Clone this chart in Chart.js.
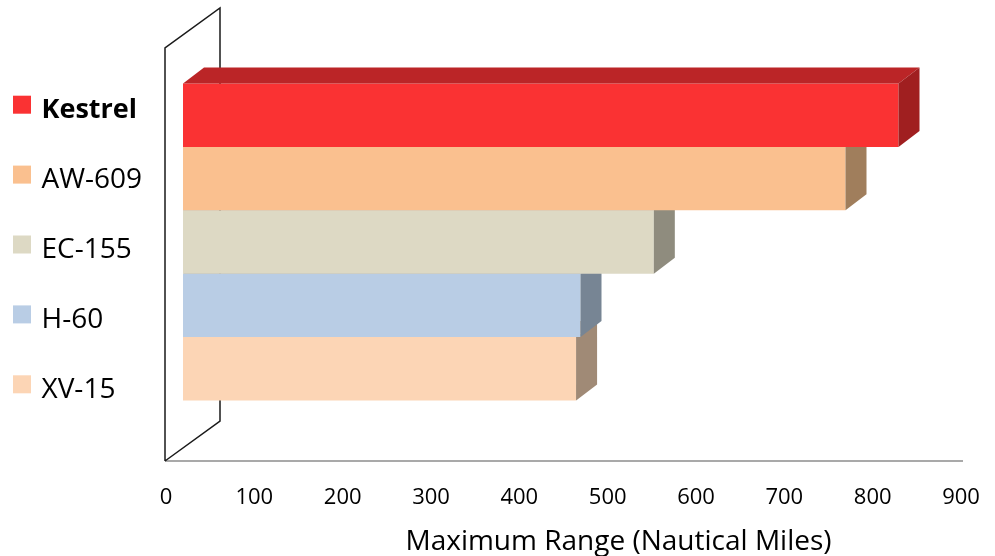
<!DOCTYPE html>
<html>
<head>
<meta charset="utf-8">
<script src="https://cdn.jsdelivr.net/npm/chart.js@4.4.1/dist/chart.umd.min.js"></script>
<style>
html,body{margin:0;padding:0;background:#fff;}
#wrap{width:995px;height:556px;position:relative;}
</style>
</head>
<body>
<div id="wrap"><canvas id="c" width="995" height="556"></canvas></div>
<script>
// ---- data ----
const seriesNames = ['Kestrel', 'AW-609', 'EC-155', 'H-60', 'XV-15'];
const maxRange = [810, 750, 533, 450, 445];
const tickValues = [0, 100, 200, 300, 400, 500, 600, 700, 800, 900];
const axisTitle = 'Maximum Range (Nautical Miles)';

// ---- style ----
const frontColors = ['#FA3233', '#FAC08F', '#DDD9C4', '#B9CDE5', '#FCD5B5'];
const topColors   = ['#BB2527', '#BB906B', '#A6A393', '#8B9AAC', '#BDA088'];
const sideColors  = ['#A01F20', '#A07E5C', '#8F8C7E', '#778594', '#A08A76'];
const FRONT_DX = 17, FRONT_DY = -12.5;   // bar front plane offset from wall front
const BAR_DX = 21, BAR_DY = -16;          // bar depth
const WALL_DX = 55, WALL_DY = -40;        // wall depth

const bar3d = {
  id: 'bar3d',
  beforeDatasetsDraw(chart) {
    const ctx = chart.ctx, a = chart.chartArea;
    const fx = a.left - 1, ft = a.top, fb = a.bottom;
    ctx.save();
    ctx.lineWidth = 1.5;
    ctx.strokeStyle = '#8c8c8c';
    ctx.beginPath(); ctx.moveTo(fx, fb); ctx.lineTo(a.right + 2, fb); ctx.stroke();
    ctx.strokeStyle = '#1a1a1a';
    ctx.beginPath();
    ctx.moveTo(fx, fb); ctx.lineTo(fx, ft); ctx.lineTo(fx + WALL_DX, ft + WALL_DY);
    ctx.lineTo(fx + WALL_DX, fb + WALL_DY); ctx.lineTo(fx, fb);
    ctx.stroke();
    ctx.restore();
    ctx.save();
    ctx.translate(FRONT_DX, FRONT_DY);
  },
  afterDatasetDraw(chart, args) {
    const ctx = chart.ctx;
    const i = args.index;
    args.meta.data.forEach(el => {
      const p = el.getProps(['x', 'y', 'base', 'height'], true);
      const top = p.y - p.height / 2, bot = p.y + p.height / 2;
      ctx.fillStyle = topColors[i];
      ctx.beginPath();
      ctx.moveTo(p.base, top); ctx.lineTo(p.x, top);
      ctx.lineTo(p.x + BAR_DX, top + BAR_DY); ctx.lineTo(p.base + BAR_DX, top + BAR_DY);
      ctx.closePath(); ctx.fill();
      ctx.fillStyle = sideColors[i];
      ctx.beginPath();
      ctx.moveTo(p.x, top); ctx.lineTo(p.x + BAR_DX, top + BAR_DY);
      ctx.lineTo(p.x + BAR_DX, bot + BAR_DY); ctx.lineTo(p.x, bot);
      ctx.closePath(); ctx.fill();
    });
  },
  afterDatasetsDraw(chart) {
    chart.ctx.restore();
  },
  afterDraw(chart) {
    const ctx = chart.ctx;
    ctx.save();
    chart.data.datasets.forEach((ds, i) => {
      const cy = 104.7 + i * 69.9;
      ctx.fillStyle = ds.backgroundColor;
      ctx.fillRect(13, cy - 9, 18, 18);
      ctx.fillStyle = '#000';
      ctx.font = (i === 0 ? 'bold 27px' : '28px') + ' "Open Sans"';
      ctx.textBaseline = 'alphabetic';
      ctx.textAlign = 'left';
      ctx.fillText(ds.label, 41.5, cy + 13.2);
    });
    // axis title
    ctx.font = '28px "Open Sans"';
    ctx.textAlign = 'center';
    ctx.textBaseline = 'alphabetic';
    ctx.fillStyle = '#000';
    ctx.fillText(axisTitle, 618.5, 549.5);
    ctx.restore();
  }
};

new Chart(document.getElementById('c'), {
  type: 'bar',
  data: {
    labels: [''],
    datasets: seriesNames.map((n, i) => ({
      label: n,
      data: [maxRange[i]],
      backgroundColor: frontColors[i],
      borderWidth: 0,
      clip: false
    }))
  },
  options: {
    responsive: false,
    animation: false,
    indexAxis: 'y',
    layout: { autoPadding: false, padding: { left: 166, right: 34, top: 48, bottom: 0 } },
    datasets: { bar: { categoryPercentage: 0.7676, barPercentage: 1 } },
    plugins: { legend: { display: false }, tooltip: { enabled: false } },
    scales: {
      x: {
        min: 0, max: 900,
        afterBuildTicks: s => { s.ticks = tickValues.map(v => ({ value: v })); },
        grid: { display: false, drawTicks: false },
        border: { display: false },
        ticks: { color: '#000', font: { family: 'Open Sans', size: 22 }, padding: 24, maxRotation: 0, autoSkip: false },
        title: { display: false },
        afterFit: s => { s.height = 95; s.paddingLeft = 0; s.paddingRight = 0; }
      },
      y: { display: false }
    }
  },
  plugins: [bar3d]
});
</script>
</body>
</html>
